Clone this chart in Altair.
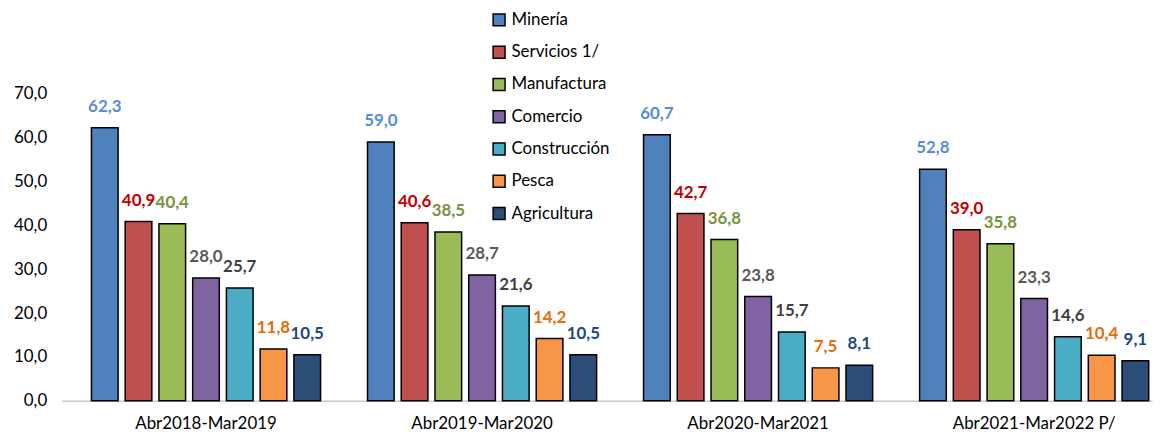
import altair as alt
import pandas as pd

periods = ["Abr2018-Mar2019", "Abr2019-Mar2020", "Abr2020-Mar2021", "Abr2021-Mar2022 P/"]
sectors = ["Minería", "Servicios 1/", "Manufactura", "Comercio", "Construcción", "Pesca", "Agricultura"]

mineria = [62.3, 59.0, 60.7, 52.8]
servicios = [40.9, 40.6, 42.7, 39.0]
manufactura = [40.4, 38.5, 36.8, 35.8]
comercio = [28.0, 28.7, 23.8, 23.3]
construccion = [25.7, 21.6, 15.7, 14.6]
pesca = [11.8, 14.2, 7.5, 10.4]
agricultura = [10.5, 10.5, 8.1, 9.1]

bar_colors = ["#4F81BD", "#C0504D", "#9BBB59", "#8064A2", "#4BACC6", "#F79646", "#2C4D75"]
label_colors = ["#558ED5", "#C00000", "#77933C", "#595959", "#404040", "#E46C0A", "#1F497D"]

series = [mineria, servicios, manufactura, comercio, construccion, pesca, agricultura]
rows = []
for s, vals in zip(sectors, series):
    for p, v in zip(periods, vals):
        rows.append({"period": p, "sector": s, "value": v,
                     "label": f"{v:.1f}".replace(".", ",")})
df = pd.DataFrame(rows)

FONT = "Lato"

x_enc = alt.X("period:N", sort=periods,
              scale=alt.Scale(paddingInner=0.17, paddingOuter=0.06, align=0.9),
              axis=alt.Axis(title=None, labelAngle=0, labelFontSize=17, labelColor="#000000",
                            labelFont=FONT, ticks=False, domainColor="#C8C8C8",
                            domainWidth=1.5, labelPadding=15))
xoff_enc = alt.XOffset("sector:N", sort=sectors, scale=alt.Scale(paddingInner=0.21))
y_enc = alt.Y("value:Q", scale=alt.Scale(domain=[0, 70], nice=False),
              axis=alt.Axis(title=None, values=[0, 10, 20, 30, 40, 50, 60, 70],
                            labelExpr="replace(format(datum.value, '.1f'), '.', ',')",
                            labelFontSize=17, labelFont=FONT, labelColor="#000000",
                            ticks=False, domain=False, grid=False, labelPadding=15))

bars = alt.Chart(df).mark_bar(stroke="#000000", strokeWidth=1.5).encode(
    x=x_enc,
    xOffset=xoff_enc,
    y=y_enc,
    color=alt.Color("sector:N", sort=sectors,
                    scale=alt.Scale(domain=sectors, range=bar_colors),
                    legend=alt.Legend(title=None, orient="none", legendX=432, legendY=-83,
                                      symbolType="square", symbolSize=144,
                                      symbolStrokeColor="#000000", symbolStrokeWidth=1.5,
                                      labelFontSize=17, labelFont=FONT, labelColor="#000000",
                                      rowPadding=13.5, labelOffset=4, padding=0)),
)

labels = alt.Chart(df).mark_text(baseline="middle", dy=-21, fontSize=17, fontWeight="bold",
                                 font=FONT).encode(
    x=alt.X("period:N", sort=periods),
    xOffset=alt.XOffset("sector:N", sort=sectors),
    y=alt.Y("value:Q"),
    text="label:N",
    color=alt.Color("sector:N", scale=alt.Scale(domain=sectors, range=label_colors), legend=None),
)

chart = alt.layer(bars, labels).resolve_scale(color="independent").properties(
    width=1098, height=309,
    autosize=alt.AutoSizeParams(type="none"),
    padding={"left": 54, "top": 85, "right": 4, "bottom": 34},
).configure_view(stroke=None)

chart.save("out.html", embed_options={"renderer": "svg", "actions": False})
